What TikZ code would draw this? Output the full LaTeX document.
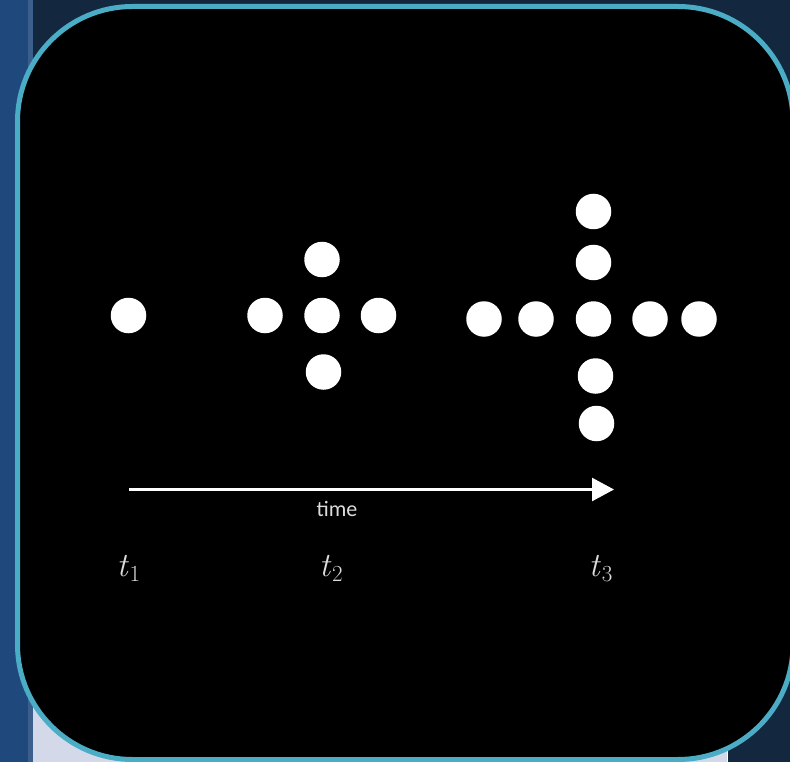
\documentclass[tikz,border=0pt]{standalone}
\usepackage{amsmath}
\usepackage{fontspec}
\usepackage{tikz}
\usetikzlibrary{arrows.meta,calc,positioning}
\setsansfont{Carlito}
\definecolor{slidebg}{HTML}{13283F}
\definecolor{sidebar}{HTML}{1F497D}
\definecolor{sidebarlight}{HTML}{3B5F8D}
\definecolor{lavender}{HTML}{D3D9E8}
\definecolor{aqua}{HTML}{4BACC6}
\definecolor{labelgray}{HTML}{DCDCDC}
\newcommand{\tsub}[1]{{\itshape t}\kern2pt\raisebox{-5pt}{\fontsize{23}{26}\selectfont #1}}
\tikzset{
  >=Latex,
  dot/.style={circle,fill=white,inner sep=0pt,minimum size=35.5pt},
  timearrow/.style={-{Triangle[length=22pt,width=23pt]},line width=2.5pt,draw=white},
  tlabel/.style={text=labelgray,font=\fontsize{34}{38}\selectfont,inner sep=0pt,anchor=base},
  panelbox/.style={draw=aqua,line width=5pt,fill=black,rounded corners=115pt}
}

\begin{document}
\begin{tikzpicture}[x=1pt,y=-1pt]
  \useasboundingbox (0,0) rectangle (790,762);
  % slide behind the panel
  \fill[slidebg] (0,0) rectangle (790,762);
  \fill[sidebar] (0,0) rectangle (28,762);
  \fill[sidebarlight] (28,0) rectangle (33,762);
  \fill[lavender] (33,680) rectangle (727,762);
  \draw[white,line width=1pt] (727.5,680) -- (727.5,762);
  \draw[panelbox] (17.5,6.5) rectangle (793,759.5);

  % t1
  \node[dot] (a0) at (128.5,315.5) {};
  % t2
  \node[dot] (b0) at (322,315.5) {};
  \node[dot] (bw) at (265,315.5) {};
  \node[dot] (be) at (378.5,315.5) {};
  \node[dot] (bn) at (322,259.5) {};
  \node[dot] (bs) at (323.5,372) {};
  % t3
  \node[dot] (c0) at (593.5,319) {};
  \node[dot] (cw1) at (536,319) {};
  \node[dot] (cw2) at (484,319) {};
  \node[dot] (ce1) at (650,319) {};
  \node[dot] (ce2) at (699,319) {};
  \node[dot] (cn1) at (593.5,262.5) {};
  \node[dot] (cn2) at (593.5,211.5) {};
  \node[dot] (cs1) at (595.5,376) {};
  \node[dot] (cs2) at (596.5,423.5) {};

  \coordinate (tstart) at (129,489.5);
  \coordinate (tend) at (614,489.5);
  \draw[timearrow] (tstart) -- (tend);
  \node[text=labelgray,font=\sffamily\fontsize{22}{24}\selectfont] (timelbl) at (337,509) {time};

  \node[tlabel] (t1) at (128.5,576) {\tsub{1}};
  \node[tlabel] (t2) at (331,576) {\tsub{2}};
  \node[tlabel] (t3) at (600.5,576) {\tsub{3}};
\end{tikzpicture}
\end{document}
